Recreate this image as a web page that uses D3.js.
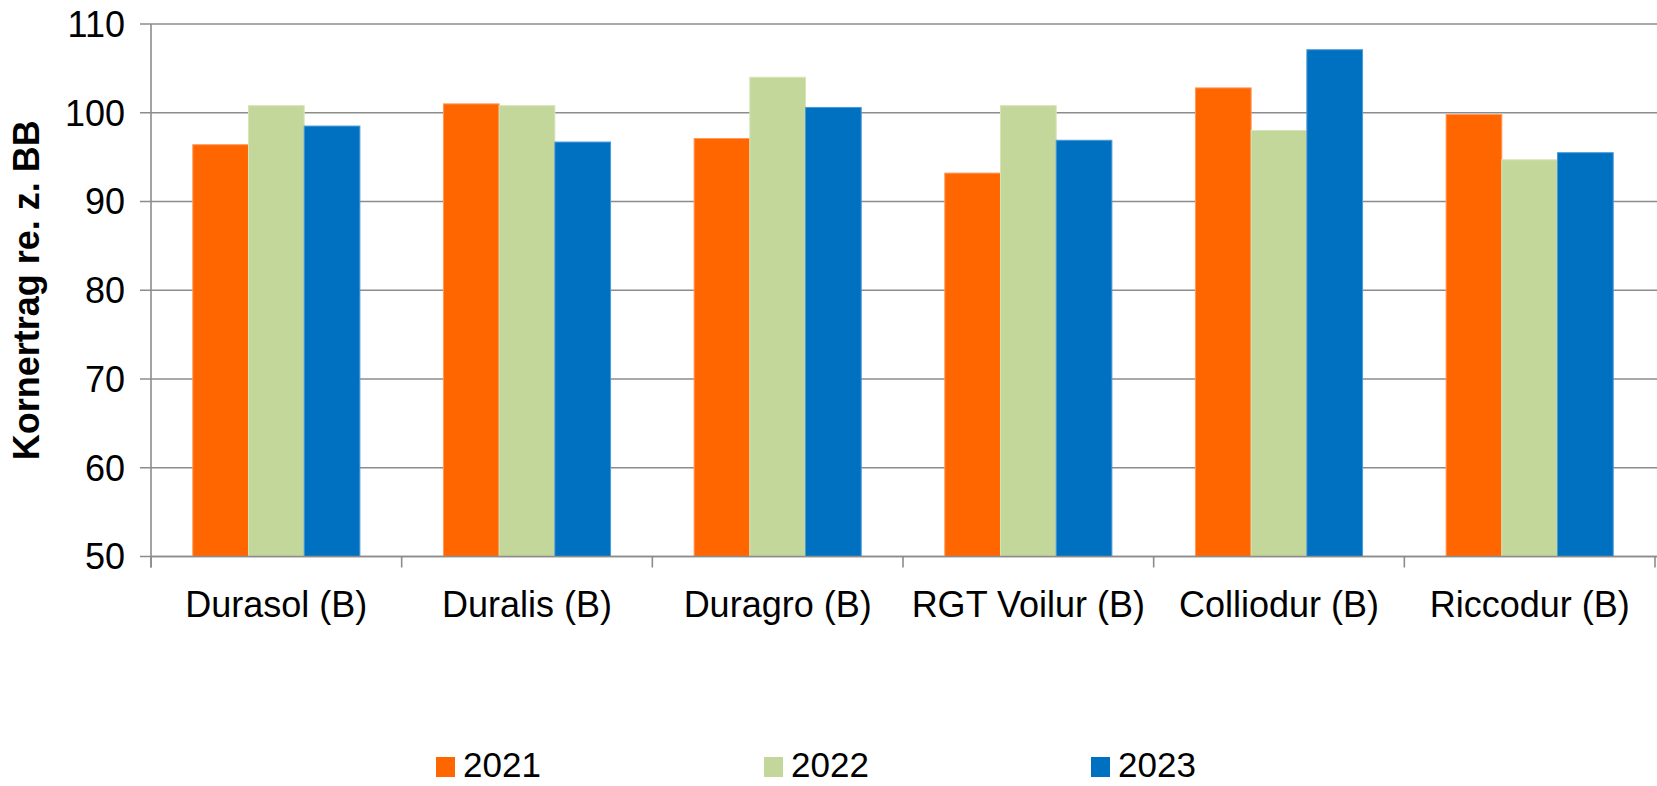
<!DOCTYPE html>
<html>
<head>
<meta charset="utf-8">
<script src="https://cdn.jsdelivr.net/npm/d3@7"></script>
<style>
  html, body { margin: 0; padding: 0; background: #fff; }
  svg { display: block; font-family: "Liberation Sans", Arial, sans-serif; }
</style>
</head>
<body>
<svg id="chart" width="1657" height="786"></svg>
<script>
const categories = ["Durasol (B)", "Duralis (B)", "Duragro (B)", "RGT Voilur (B)", "Colliodur (B)", "Riccodur (B)"];
const years = ["2021", "2022", "2023"];
const values2021 = [96.4, 101.0, 97.1, 93.2, 102.8, 99.8];
const values2022 = [100.8, 100.8, 104.0, 100.8, 98.0, 94.7];
const values2023 = [98.5, 96.7, 100.6, 96.9, 107.1, 95.5];
const yTicks = [50, 60, 70, 80, 90, 100, 110];
const colors = ["#FF6600", "#C4D79B", "#0070C0"];
const strokes = ["#FF9a5c", "#d6e4b8", "#4a9ad6"];
const yTitle = "Kornertrag re. z. BB";

const series = [values2021, values2022, values2023];

const svg = d3.select("#chart");
const mLeft = 151, mRight = 1655, mTop = 24, mBottom = 556.5;

const x0 = d3.scaleBand().domain(categories).range([mLeft, mRight]).paddingInner(0).paddingOuter(0);
const x1 = d3.scaleBand().domain(years).range([0, x0.bandwidth()]).paddingInner(0).paddingOuter(0.75);
const y = d3.scaleLinear().domain([50, 110]).range([mBottom, mTop]);

const gridColor = "#8c8c8c";

// gridlines
svg.append("g")
  .selectAll("line")
  .data(yTicks)
  .join("line")
  .attr("x1", mLeft - 11)
  .attr("x2", mRight + 2)
  .attr("y1", d => y(d))
  .attr("y2", d => y(d))
  .attr("stroke", gridColor)
  .attr("stroke-width", 1.6);

// y axis labels
svg.append("g")
  .selectAll("text")
  .data(yTicks)
  .join("text")
  .attr("x", 125)
  .attr("y", d => y(d))
  .attr("dy", "0.36em")
  .attr("text-anchor", "end")
  .attr("font-size", 36)
  .attr("fill", "#000")
  .text(d => d);

// bars
const groups = svg.append("g")
  .selectAll("g")
  .data(categories)
  .join("g")
  .attr("transform", d => `translate(${x0(d)},0)`);

groups.selectAll("rect")
  .data((d, i) => years.map((yr, j) => ({ yr, j, v: series[j][i] })))
  .join("rect")
  .attr("x", d => x1(d.yr))
  .attr("width", x1.bandwidth())
  .attr("y", d => y(d.v))
  .attr("height", d => y(50) - y(d.v))
  .attr("fill", d => colors[d.j])
  .attr("stroke", d => strokes[d.j])
  .attr("stroke-width", 1);

// y axis line
svg.append("line")
  .attr("x1", mLeft).attr("x2", mLeft)
  .attr("y1", mTop).attr("y2", mBottom + 11)
  .attr("stroke", gridColor).attr("stroke-width", 1.6);

// x axis line
svg.append("line")
  .attr("x1", mLeft).attr("x2", mRight + 2)
  .attr("y1", mBottom).attr("y2", mBottom)
  .attr("stroke", gridColor).attr("stroke-width", 1.6);

// x category ticks
const tickPos = categories.map(c => x0(c)).concat([mRight]);
svg.append("g")
  .selectAll("line")
  .data(tickPos)
  .join("line")
  .attr("x1", d => d).attr("x2", d => d)
  .attr("y1", mBottom).attr("y2", mBottom + 11)
  .attr("stroke", gridColor).attr("stroke-width", 1.6);

// x labels
svg.append("g")
  .selectAll("text")
  .data(categories)
  .join("text")
  .attr("x", d => x0(d) + x0.bandwidth() / 2)
  .attr("y", 617)
  .attr("text-anchor", "middle")
  .attr("font-size", 36)
  .attr("fill", "#000")
  .text(d => d);

// y title
svg.append("text")
  .attr("transform", `translate(39, ${(mTop + mBottom) / 2}) rotate(-90)`)
  .attr("text-anchor", "middle")
  .attr("font-size", 36)
  .attr("font-weight", "bold")
  .attr("fill", "#000")
  .text(yTitle);

// legend
const legendX = [436, 764, 1091];
const legend = svg.append("g")
  .selectAll("g")
  .data(years)
  .join("g")
  .attr("transform", (d, i) => `translate(${legendX[i]}, 757)`);
legend.append("rect")
  .attr("width", 19).attr("height", 20)
  .attr("fill", (d, i) => colors[i]);
legend.append("text")
  .attr("x", 27)
  .attr("y", 20)
  .attr("font-size", 35)
  .attr("fill", "#000")
  .text(d => d);
</script>
</body>
</html>
